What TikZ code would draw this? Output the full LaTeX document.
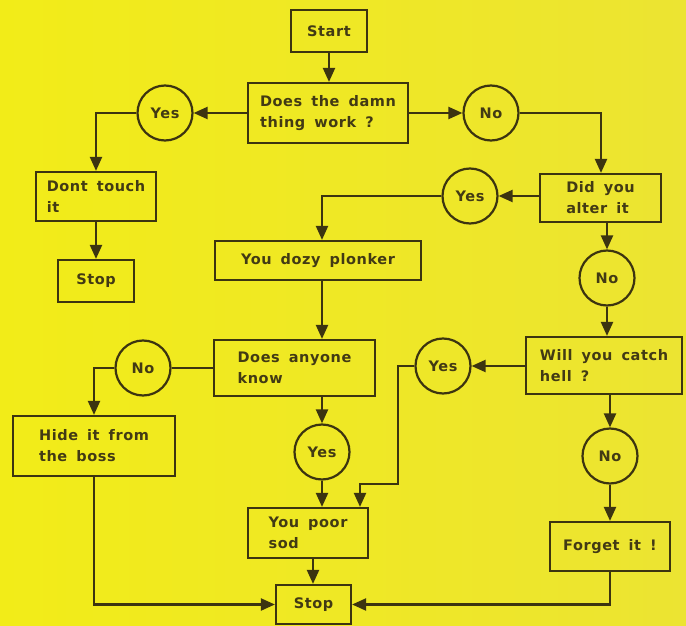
\documentclass[tikz,border=0pt]{standalone}
\usepackage{fontspec}
\newfontfamily\lbl{DejaVu Sans}[LetterSpace=4,WordSpace=1.6]
\usetikzlibrary{arrows.meta}
\definecolor{bgA}{RGB}{242,236,24}
\definecolor{bgB}{RGB}{236,228,50}
\definecolor{ink}{RGB}{60,52,16}
\definecolor{txt}{RGB}{66,58,20}
\begin{document}
\begin{tikzpicture}[x=1pt,y=-1pt,
  lab/.style={font=\lbl\bfseries\fontsize{14.5}{21}\selectfont,text=txt},
  box/.style={lab,draw=ink,line width=2.2pt,align=left,inner sep=0pt},
  ring/.style={lab,draw=ink,circle,line width=2.2pt,minimum size=55pt,inner sep=0pt},
  flow/.style={draw=ink,line width=2.2pt,-{Triangle[length=14pt,width=12pt]}},
  link/.style={draw=ink,line width=2.2pt}]
\useasboundingbox (0,0) rectangle (686,626);
\shade[left color=bgA,right color=bgB] (0,0) rectangle (686,626);

% boxes
\node[box,minimum width=76pt,minimum height=42pt] (start) at (329,31) {Start};
\node[box,minimum width=160pt,minimum height=60pt] (q1) at (328,113) {Does the damn\\thing work ?};
\node[box,minimum width=120pt,minimum height=49pt] (dont) at (96,196.5) {Dont touch\\it};
\node[box,minimum width=76pt,minimum height=42pt] (stopA) at (96,281) {Stop};
\node[box,minimum width=121pt,minimum height=48pt] (q2) at (600.5,198) {Did you\\alter it};
\node[box,minimum width=206pt,minimum height=39pt] (dozy) at (318,260.5) {You dozy plonker};
\node[box,minimum width=156pt,minimum height=57pt] (q3) at (604,365.5) {Will you catch\\hell ?};
\node[box,minimum width=161pt,minimum height=56pt] (q4) at (294.5,368) {Does anyone\\know};
\node[box,minimum width=162pt,minimum height=60pt] (hide) at (94,446) {Hide it from\\the boss};
\node[box,minimum width=120pt,minimum height=50pt] (sod) at (308,533) {You poor\\sod};
\node[box,minimum width=120pt,minimum height=49pt] (forget) at (610,546.5) {Forget it !};
\node[box,minimum width=75pt,minimum height=39pt] (stopB) at (313.5,604.5) {Stop};

% circles
\node[ring] (yes1) at (165,113) {Yes};
\node[ring] (no1) at (491,113) {No};
\node[ring] (yes2) at (470,196) {Yes};
\node[ring] (no2) at (607,278) {No};
\node[ring] (yes3) at (443,366) {Yes};
\node[ring] (no3) at (143,368) {No};
\node[ring] (yes4) at (322,452) {Yes};
\node[ring] (no4) at (610,456) {No};

% helper coordinates
\coordinate (colM) at (322,0);
\coordinate (bendR) at (398,484);
\coordinate (colR) at (360,0);
\coordinate (colS) at (313,0);
\coordinate (colQ) at (601,0);

% connectors
\draw[flow] (start.south -| start) -- (q1.north -| start);
\draw[flow] (q1.west) -- (yes1.east);
\draw[flow] (yes1.west) -| (dont.north);
\draw[flow] (dont.south) -- (stopA.north);
\draw[flow] (q1.east) -- (no1.west);
\draw[flow] (no1.east) -| (q2.north -| colQ);
\draw[flow] (q2.west |- yes2) -- (yes2.east);
\draw[flow] (yes2.west) -| (dozy.north -| colM);
\draw[flow] (dozy.south -| colM) -- (q4.north -| colM);
\draw[flow] (q2.south -| no2) -- (no2.north);
\draw[flow] (no2.south) -- (q3.north -| no2);
\draw[flow] (q3.west |- yes3) -- (yes3.east);
\draw[flow] (yes3.west) -| (bendR) -| (sod.north -| colR);
\draw[link] (q4.west |- no3) -- (no3.east);
\draw[flow] (no3.west) -| (hide.north);
\draw[flow] (hide.south) |- (stopB.west);
\draw[flow] (q4.south -| yes4) -- (yes4.north);
\draw[flow] (yes4.south) -- (sod.north -| yes4);
\draw[flow] (sod.south -| colS) -- (stopB.north -| colS);
\draw[flow] (q3.south -| no4) -- (no4.north);
\draw[flow] (no4.south) -- (forget.north);
\draw[flow] (forget.south) |- (stopB.east);
\end{tikzpicture}
\end{document}
